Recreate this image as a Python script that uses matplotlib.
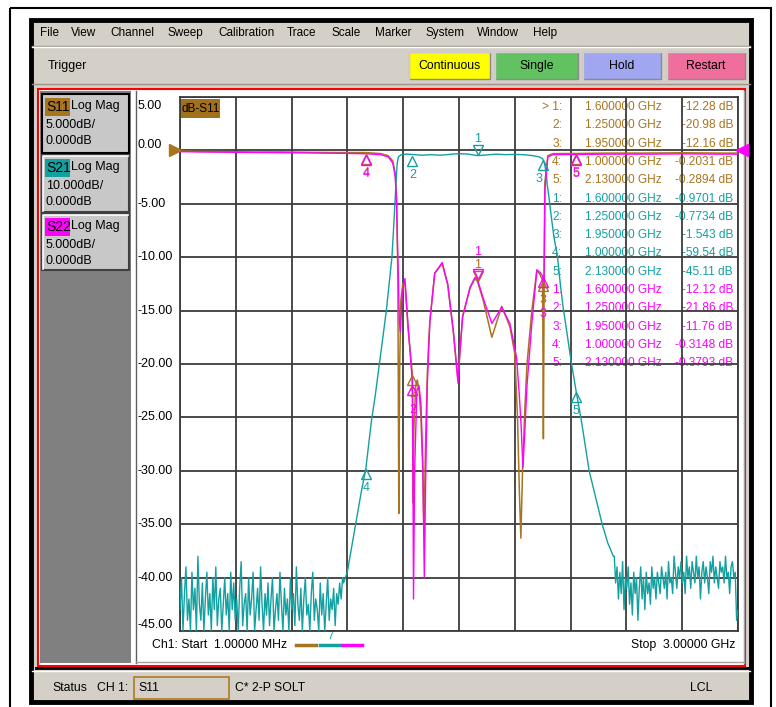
import numpy as np
import matplotlib
matplotlib.use("Agg")
import matplotlib.pyplot as plt
from matplotlib.patches import Rectangle
from matplotlib.transforms import offset_copy

# Font (no narrow face installed, so sizes are a bit smaller)
FONT = ['Liberation Sans', 'DejaVu Sans']
plt.rcParams['font.family'] = FONT

# Colors
C11 = '#a8741e'
C21 = '#12a0a0'
C22 = '#ff00ff'
GRAY = '#d4d0c8'

# Data (GHz, dB)
menu_items = ['File', 'View', 'Channel', 'Sweep', 'Calibration', 'Trace',
              'Scale', 'Marker', 'System', 'Window', 'Help']
menu_x = [40, 71, 110, 168, 218, 287, 331, 375, 426, 477, 533]
buttons = ['Continuous', 'Single', 'Hold', 'Restart']
button_colors = ['#ffff00', '#62c262', '#a0a6f0', '#f06e9c']

y_ticks = [5, 0, -5, -10, -15, -20, -25, -30, -35, -40, -45]

marker_freqs = [1.6, 1.25, 1.95, 1.0, 2.13]
s11_marks = [-12.28, -20.98, -12.16, -0.2031, -0.2894]
s21_marks = [-0.9701, -0.7734, -1.543, -59.54, -45.11]
s22_marks = [-12.12, -21.86, -11.76, -0.3148, -0.3793]

# S21 noise floor left (0.001 - 0.875 GHz)
s21_noise_left = [-86, -80, -92, -83, -78, -88, -84, -91, -79, -86, -82, -90, -76, -85, -88,
                  -81, -93, -84, -79, -87, -83, -90, -80, -86, -78, -89, -84, -82, -91, -85,
                  -80, -87, -83, -92, -79, -86, -81, -88, -84, -90, -82, -77, -89, -85, -83,
                  -91, -80, -87, -84, -79, -90, -86, -82, -88, -78, -85, -92, -83, -87, -81,
                  -89, -84, -80, -91, -86, -83, -88, -79, -85, -90, -82, -87, -84, -92, -80,
                  -86, -83, -89, -78, -85, -88, -82, -91, -84, -80, -87, -85, -90, -83, -79,
                  -88, -84, -86, -92, -81, -87, -83, -90, -85, -80, -88, -84, -86, -82, -89,
                  -83, -85, -81, -84, -80]
# S21 noise floor right (2.335 - 3.0 GHz)
s21_noise_right = [-76, -81, -78, -84, -79, -83, -77, -86, -80, -82, -78, -85, -81, -87, -79,
                   -83, -80, -88, -82, -78, -84, -80, -86, -79, -83, -81, -85, -78, -82, -80,
                   -84, -79, -81, -83, -78, -80, -82, -79, -84, -77, -81, -80, -83, -76, -79,
                   -82, -78, -80, -77, -81, -79, -83, -76, -80, -78, -82, -77, -79, -81, -76,
                   -80, -78, -84, -79, -77, -81, -78, -80, -83, -77, -79, -76, -81, -78, -80,
                   -82, -77, -79, -78, -81, -76, -80, -79, -83, -78, -77, -80, -79, -88, -86]
# S21 skirts + passband
s21_f = [0.88, 0.90, 0.925, 0.95, 0.975, 1.0, 1.03, 1.05, 1.075, 1.095, 1.11, 1.125, 1.14, 1.15,
         1.156, 1.162, 1.168, 1.175, 1.19, 1.22, 1.25, 1.3, 1.35, 1.4, 1.45, 1.5, 1.55, 1.6,
         1.65, 1.7, 1.75, 1.8, 1.85, 1.9, 1.93, 1.95, 1.96, 1.968, 1.975, 1.985, 1.995, 2.01,
         2.03, 2.045, 2.06, 2.08, 2.1, 2.13, 2.16, 2.2, 2.235, 2.27, 2.3, 2.33]
s21_db = [-81, -79, -74, -69, -64, -59.54, -50.6, -46, -39.4, -34, -30, -25, -20, -14,
          -10, -6, -2.5, -1.2, -0.8, -0.7, -0.7734, -0.9, -0.8, -0.9, -0.75, -0.6, -0.7, -0.9701,
          -0.85, -0.7, -0.8, -0.75, -0.8, -1.0, -1.2, -1.543, -2.4, -4, -6.5, -9, -12, -16,
          -20, -25, -29.4, -34, -38.8, -45.11, -51, -60, -65, -70, -73.5, -76]

s11_f = [0.001, 0.1, 0.25, 0.4, 0.55, 0.7, 0.85, 1.0, 1.08, 1.12, 1.145, 1.158, 1.165, 1.172,
         1.177, 1.182, 1.188, 1.198, 1.21, 1.226, 1.242, 1.25, 1.254, 1.258, 1.268, 1.276,
         1.286, 1.296, 1.306, 1.312, 1.32, 1.33, 1.339, 1.344, 1.37, 1.41, 1.44, 1.47, 1.487,
         1.495, 1.505, 1.52, 1.56, 1.586, 1.6, 1.63, 1.677, 1.73, 1.774, 1.8, 1.815, 1.825,
         1.833, 1.842, 1.855, 1.866, 1.892, 1.919, 1.935, 1.95, 1.954, 1.958, 1.962, 1.978,
         2.005, 2.13, 2.3, 2.5, 2.7, 2.9, 3.0]
s11_db = [-0.05, -0.1, -0.12, -0.15, -0.14, -0.18, -0.2, -0.2031, -0.3, -0.5, -1.0, -2.2, -4.5, -12,
          -34, -20, -14, -12.5, -12.5, -16.5, -19.5, -20.98, -33, -26, -22, -21.5,
          -22.5, -25, -30, -36, -28, -21, -17.5, -16, -11.5, -10.6, -12.6, -17, -20.2,
          -21.5, -19, -15.5, -12.9, -12, -12.28, -14, -17.5, -14.6, -16.5, -19, -25, -32,
          -36.3, -30, -24, -20, -15, -11.2, -11.6, -12.16, -27, -13, -3, -0.5,
          -0.3, -0.2894, -0.25, -0.25, -0.22, -0.25, -0.25]

s22_f = [0.001, 0.15, 0.3, 0.45, 0.6, 0.75, 0.9, 1.0, 1.08, 1.12, 1.145, 1.158, 1.165, 1.172,
         1.18, 1.185, 1.195, 1.21, 1.226, 1.242, 1.25, 1.253, 1.256, 1.262, 1.274, 1.285,
         1.296, 1.306, 1.314, 1.322, 1.33, 1.339, 1.344, 1.37, 1.41, 1.44, 1.47, 1.487, 1.495,
         1.505, 1.52, 1.56, 1.586, 1.6, 1.63, 1.677, 1.73, 1.774, 1.81, 1.825, 1.835, 1.844,
         1.855, 1.866, 1.892, 1.919, 1.935, 1.95, 1.957, 1.962, 1.978, 2.005, 2.13, 2.3, 2.5,
         2.7, 2.9, 3.0]
s22_db = [-0.12, -0.15, -0.18, -0.2, -0.22, -0.25, -0.28, -0.3148, -0.4, -0.6, -1.2, -2.5, -5, -10,
          -16, -17, -13.5, -12, -16.2, -19.9, -21.86, -30, -42, -30, -22.5, -22,
          -23.7, -29.3, -40, -30, -22, -18.1, -16, -11.5, -10.5, -12.5, -16.9, -20, -21.8,
          -19, -15.6, -12.8, -11.9, -12.12, -13.8, -16.2, -14.7, -16.2, -19.4, -23, -26, -29.7,
          -26, -22, -16.2, -11.2, -11.4, -11.76, -12.5, -3.7, -0.6, -0.4, -0.3793, -0.35, -0.35,
          -0.33, -0.35, -0.35]

# S21 is on 10 dB/div, the grid is 5 dB/div
S21_SCALE = 5.0 / 10.0

W, H = 776, 707
fig = plt.figure(figsize=(W / 100, H / 100), dpi=100)
fig.patch.set_facecolor('white')

bg = fig.add_axes([0, 0, 1, 1])
bg.set_xlim(0, W)
bg.set_ylim(H, 0)
bg.axis('off')


def rect(x0, y0, x1, y1, fc='none', ec='none', lw=1, z=1):
    bg.add_patch(Rectangle((x0, y0), x1 - x0, y1 - y0, facecolor=fc, edgecolor=ec, lw=lw, zorder=z))


def txt(x, y, s, size=9, color='black', ha='left', z=5, **kw):
    bg.text(x, y, s, fontsize=size, color=color, ha=ha, va='center', zorder=z, **kw)


# window frame
rect(10, 8, 771, 720, ec='black', lw=1.5)
rect(31, 20, 751, 702, fc=GRAY, ec='black', lw=3.5)

# menu bar
for m, x in zip(menu_items, menu_x):
    txt(x, 33, m, size=8.5)
bg.plot([32, 750], [46, 46], color='#9a968e', lw=1)
bg.plot([32, 750], [47, 47], color='white', lw=1)

# trigger bar
txt(48, 66, 'Trigger', size=9)
bx = [(409, 490), (495, 578), (583, 661), (667, 745)]
for (x0, x1), lab, c in zip(bx, buttons, button_colors):
    rect(x0, 52, x1, 79, fc=c, ec='#8a8a8a', lw=1, z=2)
    bg.plot([x0, x0, x1], [79, 52, 52], color='white', lw=1, alpha=0.6, zorder=3)
    txt((x0 + x1) / 2, 66, lab, size=8.8, ha='center')
bg.plot([32, 750], [84, 84], color='#9a968e', lw=1)

# red bordered channel window
rect(38, 89, 745, 666, fc='white', ec='red', lw=1.5)
bg.plot([36, 748], [668, 668], color='black', lw=2)

# left trace panel
rect(40, 91, 131, 663, fc='#808080', z=2)
bg.plot([133, 133], [91, 663], color='white', lw=1.5, zorder=2)
bg.plot([136, 136], [91, 663], color='#606060', lw=1, zorder=2)
bg.plot([744, 744], [91, 663], color='#a0a0a0', lw=1, zorder=2)
bg.plot([136, 744], [662, 662], color='#a0a0a0', lw=1, zorder=2)

boxes = [(94, 153, 'S11', C11, '5.000dB/'),
         (155, 212, 'S21', C21, '10.000dB/'),
         (214, 270, 'S22', C22, '5.000dB/')]
for i, (y0, y1, name, c, scl) in enumerate(boxes):
    rect(42, y0, 129, y1, fc='#c8c8c8', ec='black' if i == 0 else '#404040', lw=1.5, z=3)
    if i > 0:
        bg.plot([43, 43, 128], [y1 - 1, y0 + 1, y0 + 1], color='white', lw=1.2, zorder=4)
    rect(45, y0 + 4, 70, y0 + 22, fc=c, z=4)
    txt(46, y0 + 13, name, size=10)
    txt(71, y0 + 12, 'Log Mag', size=9)
    txt(46, y0 + 31, scl, size=9)
    txt(46, y0 + 47, '0.000dB', size=9)

# plot area
X0, X1, Y0, Y1 = 180, 738, 97, 631
ax = fig.add_axes([X0 / W, 1 - Y1 / H, (X1 - X0) / W, (Y1 - Y0) / H])
ax.set_facecolor('none')
ax.set_xlim(0.001, 3.0)
ax.set_ylim(-45, 5)
ax.set_xticks(np.linspace(0.001, 3.0, 11))
ax.set_yticks(y_ticks)
ax.tick_params(length=0, labelleft=False, labelbottom=False)
ax.grid(True, color='#3c3c3c', lw=1.3)
for s in ax.spines.values():
    s.set_color('#3c3c3c')
    s.set_linewidth(1.3)

# y labels
for v in y_ticks:
    yy = Y0 + (5 - v) / 50 * (Y1 - Y0)
    if v == 0:
        yy = 145
    yy = min(max(yy, 106), 625)
    txt(138, yy, '%.2f' % v, size=9)

# dB-S11 label
rect(180, 99, 220, 118, fc='#a0701a', z=5)
txt(182, 109, 'dB-S11', size=8.5, z=6)

# marker table
rows = []
for f, v in zip(marker_freqs, s11_marks):
    rows.append((f, v, C11))
for f, v in zip(marker_freqs, s21_marks):
    rows.append((f, v, C21))
for f, v in zip(marker_freqs, s22_marks):
    rows.append((f, v, C22))
for i, (f, v, c) in enumerate(rows):
    yy = 107 + i * 18.3
    n = i % 5 + 1
    lab = '> %d:' % n if i == 0 else '%d:' % n
    txt(562, yy, lab, size=8.6, color=c, ha='right')
    txt(662, yy, '%.6f GHz' % f, size=8.6, color=c, ha='right')
    txt(733, yy, '%s dB' % ('%.4g' % v), size=8.6, color=c, ha='right')

# traces
f_left = np.linspace(0.001, 0.875, len(s21_noise_left))
f_right = np.linspace(2.335, 3.0, len(s21_noise_right))
s21_all_f = np.concatenate([f_left, s21_f, f_right])
s21_all_db = np.concatenate([s21_noise_left, s21_db, s21_noise_right])
s21_disp = np.clip(s21_all_db * S21_SCALE, -45, 5)

ax.plot(s11_f, s11_db, color=C11, lw=1.1, zorder=3)
ax.plot(s21_all_f, s21_disp, color=C21, lw=1.0, zorder=3)
ax.plot(s22_f, s22_db, color=C22, lw=1.0, zorder=4)


def mark(f, v, color, num, dx=0, dy=0):
    if num == 1:
        tr = offset_copy(ax.transData, fig=fig, x=0, y=6, units='dots')
        ax.plot([f], [v], marker='v', ms=6.5, mfc='none', mec=color, mew=1, transform=tr, zorder=6)
        ax.text(f, v, '1', color=color, fontsize=9, ha='center', va='center', zorder=6,
                transform=offset_copy(ax.transData, fig=fig, x=dx, y=17 + dy, units='dots'))
    else:
        tr = offset_copy(ax.transData, fig=fig, x=0, y=-6, units='dots')
        ax.plot([f], [v], marker='^', ms=6.5, mfc='none', mec=color, mew=1, transform=tr, zorder=6)
        ax.text(f, v, str(num), color=color, fontsize=9, ha='center', va='center', zorder=6,
                transform=offset_copy(ax.transData, fig=fig, x=dx, y=-20 + dy, units='dots'))


# extra label shifts so stacked S11 / S22 labels stay readable
s22_label_dy = [11, -6, -18, 0, 0]
for i, f in enumerate(marker_freqs):
    mark(f, s11_marks[i], C11, i + 1)
    mark(f, s22_marks[i], C22, i + 1, dy=s22_label_dy[i])
    mark(f, s21_marks[i] * S21_SCALE, C21, i + 1, dx=-4 if i == 2 else 0)

# reference arrows
trl = offset_copy(ax.transData, fig=fig, x=-5, y=0, units='dots')
ax.plot([0.001], [0], marker='>', ms=8, color=C11, transform=trl, clip_on=False, zorder=7)
trr = offset_copy(ax.transData, fig=fig, x=4, y=0, units='dots')
ax.plot([3.0], [0], marker='<', ms=8, color=C22, transform=trr, clip_on=False, zorder=7)

# bottom line of plot
txt(152, 645, 'Ch1: Start  1.00000 MHz', size=8.8)
bg.plot([296, 316], [645, 645], color=C11, lw=2.5, zorder=5)
bg.plot([320, 340], [645, 645], color=C21, lw=2.5, zorder=5)
bg.plot([343, 362], [645, 645], color=C22, lw=2.5, zorder=5)
txt(330, 636, '7', size=8, color=C21, ha='center')
txt(735, 645, 'Stop  3.00000 GHz', size=8.8, ha='right')

# status bar
bg.plot([32, 750], [671, 671], color='white', lw=1)
txt(52, 688, 'Status', size=8.8)
txt(97, 688, 'CH 1:', size=8.8)
rect(134, 677, 229, 699, ec='#b07a20', lw=1.2, z=3)
txt(138, 688, 'S11', size=8.8)
txt(235, 688, 'C* 2-P SOLT', size=8.8)
txt(690, 688, 'LCL', size=8.8)

fig.savefig('out.png', dpi=100)
